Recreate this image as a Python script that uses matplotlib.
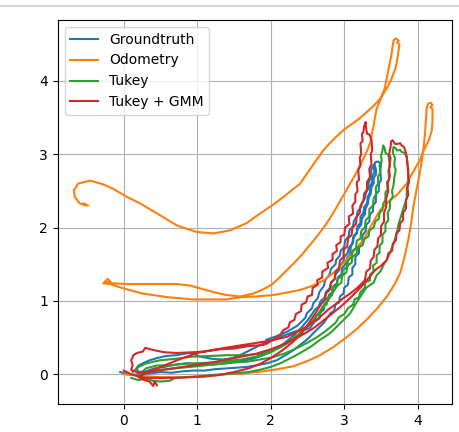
import matplotlib
matplotlib.use("Agg")
import matplotlib.pyplot as plt
from matplotlib.lines import Line2D
import numpy as np

# trajectoires (x, y)
groundtruth = [
    (-0.05, 0.03), (0.02, 0.01), (0.1, -0.01), (0.2, 0.0), (0.35, 0.01), (0.5, 0.03), (0.65, 0.02),
    (0.8, 0.04), (0.95, 0.05), (1.1, 0.05), (1.25, 0.07), (1.4, 0.08), (1.55, 0.09), (1.67, 0.10),
    (1.8, 0.12), (1.95, 0.15), (2.08, 0.19), (2.2, 0.26), (2.31, 0.33), (2.4, 0.40), (2.5, 0.48),
    (2.58, 0.56), (2.66, 0.64), (2.72, 0.70), (2.76, 0.76), (2.82, 0.84), (2.86, 0.86), (2.88, 0.95),
    (2.93, 0.98), (2.94, 1.06), (2.99, 1.10), (3.0, 1.18), (3.05, 1.22), (3.06, 1.32), (3.11, 1.36),
    (3.11, 1.45), (3.15, 1.50), (3.15, 1.60), (3.20, 1.65), (3.20, 1.75), (3.24, 1.80), (3.25, 1.90),
    (3.29, 1.95), (3.30, 2.04), (3.34, 2.08), (3.35, 2.18), (3.39, 2.22), (3.39, 2.30), (3.43, 2.35),
    (3.43, 2.45), (3.47, 2.50), (3.47, 2.60), (3.50, 2.65), (3.49, 2.76), (3.50, 2.87), (3.46, 2.90),
    (3.42, 2.89), (3.40, 2.84), (3.41, 2.76), (3.38, 2.70), (3.38, 2.62), (3.35, 2.56), (3.35, 2.48),
    (3.32, 2.42), (3.31, 2.33), (3.27, 2.28), (3.26, 2.20), (3.22, 2.15), (3.22, 2.06), (3.18, 2.02),
    (3.17, 1.93), (3.13, 1.89), (3.12, 1.80), (3.09, 1.75), (3.08, 1.64), (3.04, 1.59), (3.02, 1.50),
    (2.97, 1.45), (2.96, 1.36), (2.91, 1.32), (2.90, 1.24), (2.85, 1.20), (2.84, 1.12), (2.79, 1.08),
    (2.78, 1.00), (2.73, 0.96), (2.72, 0.88), (2.67, 0.84), (2.66, 0.76), (2.60, 0.72), (2.53, 0.63),
    (2.45, 0.60), (2.35, 0.59), (2.24, 0.55), (2.13, 0.51), (2.02, 0.46), (1.90, 0.42), (1.80, 0.37),
    (1.72, 0.33), (1.6, 0.27), (1.48, 0.22), (1.35, 0.20), (1.2, 0.21), (1.04, 0.24), (0.95, 0.28),
    (0.88, 0.29), (0.72, 0.26), (0.58, 0.25), (0.45, 0.22), (0.35, 0.19), (0.26, 0.15), (0.2, 0.12),
    (0.17, 0.08), (0.2, 0.03), (0.3, 0.04),
    (0.42, 0.08), (0.55, 0.1), (0.7, 0.13), (0.85, 0.15), (1.0, 0.14), (1.15, 0.13), (1.3, 0.14),
    (1.45, 0.16), (1.6, 0.18), (1.75, 0.21), (1.9, 0.26), (2.05, 0.33), (2.18, 0.42), (2.3, 0.52),
    (2.42, 0.64), (2.52, 0.76), (2.6, 0.88), (2.65, 0.92), (2.68, 1.0), (2.73, 1.04), (2.75, 1.12),
    (2.80, 1.17), (2.82, 1.25), (2.87, 1.30), (2.88, 1.36), (2.93, 1.42), (2.94, 1.48), (2.99, 1.54),
    (3.0, 1.6), (3.05, 1.66), (3.06, 1.72), (3.11, 1.78), (3.12, 1.86), (3.17, 1.92), (3.18, 1.98),
    (3.23, 2.04), (3.24, 2.12), (3.28, 2.18), (3.29, 2.26), (3.32, 2.32), (3.33, 2.4), (3.36, 2.46),
    (3.37, 2.55), (3.40, 2.60), (3.40, 2.68), (3.43, 2.72), (3.43, 2.80), (3.41, 2.86), (3.37, 2.80),
    (3.35, 2.66), (3.33, 2.60), (3.32, 2.52), (3.29, 2.46), (3.28, 2.40), (3.24, 2.34), (3.23, 2.28),
    (3.18, 2.22), (3.17, 2.15), (3.13, 2.09), (3.12, 2.02), (3.07, 1.96), (3.06, 1.88), (3.01, 1.82),
    (3.0, 1.74), (2.95, 1.68), (2.94, 1.62), (2.89, 1.56), (2.88, 1.50), (2.82, 1.44), (2.80, 1.36),
    (2.74, 1.28), (2.72, 1.20), (2.66, 1.12), (2.64, 1.04), (2.58, 0.97), (2.56, 0.90), (2.49, 0.83),
    (2.47, 0.77), (2.36, 0.66), (2.22, 0.58), (2.08, 0.52), (1.94, 0.47),
]

odometry = [
    (0.0, 0.0), (0.2, -0.02), (0.5, -0.04), (0.8, -0.04), (1.1, -0.03), (1.4, 0.0), (1.6, 0.01),
    (1.9, 0.04), (2.1, 0.07), (2.31, 0.11), (2.5, 0.18), (2.67, 0.26), (2.85, 0.37), (3.0, 0.48),
    (3.15, 0.6), (3.30, 0.74), (3.45, 0.9), (3.58, 1.06), (3.68, 1.22), (3.76, 1.38), (3.82, 1.6),
    (3.87, 1.83), (3.91, 2.06), (3.94, 2.28), (3.98, 2.5), (4.01, 2.65), (4.05, 2.88), (4.08, 3.10),
    (4.10, 3.3), (4.11, 3.46), (4.12, 3.62), (4.14, 3.69), (4.18, 3.70), (4.20, 3.67), (4.17, 3.64),
    (4.20, 3.62), (4.20, 3.45), (4.19, 3.32), (4.15, 3.19), (4.08, 3.05), (4.03, 2.92), (3.93, 2.75),
    (3.85, 2.60), (3.72, 2.45), (3.62, 2.37), (3.49, 2.24), (3.38, 2.05), (3.26, 1.83), (3.15, 1.70),
    (3.03, 1.56), (2.90, 1.42), (2.72, 1.28), (2.55, 1.20), (2.40, 1.15), (2.2, 1.11), (2.03, 1.08),
    (1.8, 1.06), (1.58, 1.05), (1.40, 1.02), (1.15, 1.02), (0.94, 1.02), (0.6, 1.05), (0.26, 1.10),
    (0.0, 1.17), (-0.19, 1.23), (-0.27, 1.25), (-0.22, 1.30), (-0.18, 1.26), (-0.28, 1.24),
    (-0.15, 1.24), (0.04, 1.23), (0.4, 1.23), (0.72, 1.23), (0.9, 1.21), (1.04, 1.17), (1.22, 1.12),
    (1.40, 1.08), (1.58, 1.06), (1.76, 1.10), (1.88, 1.15), (2.01, 1.22), (2.12, 1.32), (2.22, 1.42),
    (2.33, 1.53), (2.44, 1.65), (2.58, 1.82), (2.72, 2.0), (2.82, 2.15), (2.92, 2.32), (3.0, 2.46),
    (3.08, 2.60), (3.16, 2.74), (3.24, 2.90), (3.30, 3.02), (3.35, 3.15), (3.40, 3.40), (3.44, 3.62),
    (3.49, 3.74), (3.55, 3.9), (3.60, 4.15), (3.64, 4.35), (3.67, 4.55), (3.70, 4.58), (3.74, 4.55),
    (3.72, 4.52), (3.75, 4.50), (3.73, 4.35), (3.70, 4.18), (3.64, 4.02), (3.58, 3.90), (3.49, 3.76),
    (3.40, 3.66), (3.21, 3.49), (2.99, 3.33), (2.85, 3.2), (2.72, 3.06), (2.55, 2.82), (2.40, 2.60),
    (2.2, 2.44), (2.03, 2.31), (1.85, 2.19), (1.67, 2.06), (1.44, 1.96), (1.22, 1.92), (0.99, 1.94),
    (0.72, 2.03), (0.49, 2.17), (0.22, 2.33), (0.04, 2.42), (-0.15, 2.53), (-0.28, 2.59),
    (-0.46, 2.64), (-0.62, 2.60), (-0.68, 2.51), (-0.67, 2.42), (-0.60, 2.33), (-0.52, 2.30),
    (-0.55, 2.33), (-0.49, 2.30),
]

tukey = [
    (0.1, -0.05), (0.2, -0.08), (0.3, -0.06), (0.4, -0.09), (0.5, -0.1), (0.62, -0.09), (0.7, -0.05),
    (0.85, -0.04), (1.0, -0.03), (1.2, -0.01), (1.49, 0.01), (1.7, 0.03), (1.85, 0.06), (2.0, 0.1),
    (2.13, 0.15), (2.27, 0.22), (2.40, 0.29), (2.55, 0.38), (2.67, 0.47), (2.78, 0.54), (2.85, 0.60),
    (2.97, 0.72), (3.08, 0.83), (3.15, 0.95), (3.22, 1.06), (3.30, 1.18), (3.40, 1.25), (3.44, 1.35),
    (3.49, 1.40), (3.55, 1.52), (3.58, 1.56), (3.63, 1.68), (3.67, 1.78), (3.72, 1.95), (3.74, 2.05),
    (3.78, 2.18), (3.81, 2.28), (3.85, 2.40), (3.85, 2.50), (3.87, 2.62), (3.87, 2.80), (3.85, 2.96),
    (3.82, 3.02), (3.78, 3.03), (3.76, 3.06), (3.72, 3.05), (3.70, 3.08), (3.67, 3.10), (3.66, 3.02),
    (3.69, 2.95), (3.68, 2.85), (3.70, 2.78), (3.68, 2.68), (3.67, 2.58), (3.65, 2.50), (3.66, 2.42),
    (3.62, 2.36), (3.62, 2.26), (3.59, 2.20), (3.60, 2.10), (3.56, 2.05), (3.56, 1.95), (3.52, 1.90),
    (3.52, 1.80), (3.48, 1.75), (3.48, 1.66), (3.44, 1.62), (3.44, 1.52), (3.39, 1.48), (3.40, 1.40),
    (3.35, 1.36), (3.35, 1.28), (3.28, 1.25), (3.28, 1.18), (3.22, 1.12), (3.20, 1.05), (3.14, 1.02),
    (3.12, 0.95), (3.05, 0.90), (3.0, 0.82), (2.93, 0.78), (2.88, 0.70), (2.76, 0.60), (2.62, 0.50),
    (2.48, 0.42), (2.32, 0.34), (2.18, 0.28), (2.02, 0.23), (1.85, 0.2), (1.67, 0.17), (1.5, 0.16),
    (1.3, 0.14), (1.1, 0.12), (0.9, 0.1), (0.7, 0.08), (0.5, 0.06), (0.35, 0.04), (0.22, 0.0),
    (0.3, 0.08), (0.45, 0.12), (0.6, 0.12), (0.8, 0.14), (1.0, 0.15), (1.2, 0.16), (1.4, 0.18),
    (1.6, 0.20), (1.8, 0.24), (2.0, 0.30), (2.15, 0.38), (2.3, 0.48), (2.45, 0.60), (2.58, 0.74),
    (2.7, 0.90), (2.8, 1.04), (2.9, 1.2), (2.96, 1.25), (2.97, 1.34), (3.03, 1.39), (3.04, 1.48),
    (3.10, 1.52), (3.11, 1.60), (3.17, 1.65), (3.18, 1.72), (3.25, 1.76), (3.27, 1.84), (3.33, 1.88),
    (3.34, 1.96), (3.40, 2.0), (3.42, 2.08), (3.47, 2.12), (3.48, 2.20), (3.52, 2.24), (3.53, 2.32),
    (3.56, 2.38), (3.56, 2.48), (3.59, 2.52), (3.58, 2.62), (3.61, 2.66), (3.60, 2.78), (3.62, 2.84),
    (3.61, 2.92), (3.60, 2.99), (3.56, 3.02), (3.55, 3.08), (3.53, 3.12), (3.52, 3.05), (3.50, 2.98),
    (3.51, 2.90), (3.48, 2.85), (3.49, 2.75), (3.46, 2.70), (3.46, 2.60), (3.43, 2.55), (3.43, 2.45),
    (3.40, 2.40), (3.39, 2.30), (3.34, 2.25), (3.34, 2.15), (3.29, 2.10), (3.28, 2.0), (3.23, 1.95),
    (3.22, 1.85), (3.17, 1.82), (3.16, 1.72), (3.11, 1.68), (3.10, 1.60), (3.05, 1.55), (3.04, 1.46),
    (2.98, 1.42), (2.97, 1.34), (2.91, 1.30), (2.90, 1.22), (2.84, 1.18), (2.83, 1.08), (2.77, 1.04),
    (2.76, 0.95), (2.70, 0.92), (2.68, 0.84), (2.62, 0.80), (2.60, 0.74), (2.53, 0.69), (2.46, 0.62),
    (2.40, 0.56), (2.31, 0.49), (2.22, 0.42), (2.12, 0.37), (2.03, 0.33), (1.85, 0.28), (1.67, 0.26),
    (1.5, 0.26), (1.40, 0.26), (1.2, 0.25), (0.94, 0.24), (0.7, 0.21), (0.49, 0.19), (0.31, 0.15),
    (0.2, 0.1), (0.12, 0.03),
]

tukey_gmm = [
    (0.0, 0.05), (0.1, 0.0), (0.2, -0.03), (0.3, -0.05), (0.5, -0.05), (0.7, -0.05), (0.9, -0.04),
    (1.1, -0.03), (1.3, -0.01), (1.5, 0.03), (1.7, 0.08), (1.85, 0.14), (2.0, 0.22), (2.15, 0.32),
    (2.3, 0.44), (2.42, 0.56), (2.52, 0.70), (2.60, 0.82), (2.68, 0.95), (2.74, 1.02), (2.75, 1.10),
    (2.81, 1.16), (2.82, 1.25), (2.87, 1.30), (2.88, 1.40), (2.93, 1.45), (2.94, 1.55), (2.99, 1.60),
    (2.99, 1.70), (3.04, 1.74), (3.05, 1.85), (3.10, 1.90), (3.11, 2.0), (3.16, 2.05), (3.17, 2.15),
    (3.21, 2.20), (3.22, 2.30), (3.26, 2.36), (3.27, 2.46), (3.31, 2.52), (3.31, 2.62), (3.35, 2.69),
    (3.34, 2.80), (3.37, 2.86), (3.36, 3.0), (3.38, 3.05), (3.37, 3.20), (3.34, 3.27), (3.31, 3.28),
    (3.30, 3.33), (3.29, 3.44), (3.27, 3.38), (3.26, 3.30), (3.24, 3.28), (3.25, 3.18), (3.22, 3.15),
    (3.23, 3.0), (3.21, 2.95), (3.22, 2.85), (3.19, 2.78), (3.20, 2.65), (3.17, 2.62), (3.18, 2.50),
    (3.15, 2.45), (3.15, 2.35), (3.11, 2.30), (3.12, 2.19), (3.06, 2.15), (3.07, 2.05), (3.01, 2.0),
    (3.0, 1.90), (2.95, 1.88), (2.95, 1.80), (2.89, 1.76), (2.90, 1.68), (2.84, 1.64), (2.84, 1.56),
    (2.77, 1.52), (2.78, 1.45), (2.70, 1.40), (2.70, 1.32), (2.63, 1.28), (2.64, 1.22), (2.57, 1.18),
    (2.56, 1.08), (2.50, 1.06), (2.48, 0.98), (2.42, 0.95), (2.41, 0.86), (2.34, 0.82), (2.32, 0.74),
    (2.26, 0.71), (2.24, 0.64), (2.17, 0.60), (2.12, 0.53), (2.03, 0.47), (1.95, 0.42), (1.90, 0.40),
    (1.78, 0.39), (1.67, 0.38), (1.5, 0.35), (1.31, 0.34), (1.1, 0.31), (0.94, 0.30), (0.72, 0.29),
    (0.55, 0.30), (0.40, 0.33), (0.29, 0.36), (0.26, 0.31), (0.18, 0.29), (0.13, 0.26), (0.10, 0.19),
    (0.12, 0.12), (0.1, 0.06),
    (0.2, 0.02), (0.4, 0.04), (0.6, 0.07), (0.8, 0.1), (1.0, 0.13), (1.2, 0.16), (1.4, 0.2),
    (1.6, 0.24), (1.8, 0.28), (2.0, 0.34), (2.2, 0.42), (2.4, 0.52), (2.6, 0.64), (2.8, 0.8),
    (2.95, 0.92), (3.1, 1.06), (3.22, 1.18), (3.32, 1.30), (3.42, 1.42), (3.50, 1.48), (3.58, 1.56),
    (3.60, 1.65), (3.65, 1.68), (3.66, 1.78), (3.70, 1.82), (3.71, 1.92), (3.75, 1.96), (3.76, 2.06),
    (3.80, 2.10), (3.80, 2.20), (3.84, 2.26), (3.84, 2.38), (3.87, 2.44), (3.86, 2.55), (3.88, 2.62),
    (3.87, 2.74), (3.86, 2.85), (3.85, 2.96), (3.83, 3.05), (3.81, 3.10), (3.78, 3.12), (3.76, 3.15),
    (3.72, 3.14), (3.69, 3.14), (3.66, 3.19), (3.64, 3.18), (3.63, 3.10), (3.61, 3.0), (3.63, 2.95),
    (3.61, 2.80), (3.62, 2.70), (3.59, 2.60), (3.60, 2.50), (3.57, 2.40), (3.57, 2.28), (3.54, 2.20),
    (3.54, 2.08), (3.50, 2.02), (3.50, 1.90), (3.46, 1.85), (3.45, 1.74), (3.41, 1.70), (3.40, 1.60),
    (3.36, 1.55), (3.35, 1.44), (3.30, 1.40), (3.28, 1.28), (3.18, 1.18), (3.08, 1.10), (2.99, 1.04),
    (2.90, 0.97), (2.78, 0.88), (2.67, 0.78), (2.58, 0.71), (2.49, 0.65), (2.36, 0.58), (2.22, 0.51),
    (2.0, 0.46), (1.76, 0.42), (1.5, 0.38), (1.2, 0.33), (1.0, 0.29), (0.8, 0.22), (0.6, 0.14),
    (0.45, 0.08), (0.3, 0.02), (0.2, -0.04), (0.28, -0.08), (0.35, -0.1), (0.40, -0.16),
    (0.42, -0.10), (0.45, -0.15),
]

labels = ["Groundtruth", "Odometry", "Tukey", "Tukey + GMM"]
x_ticks = [0, 1, 2, 3, 4]
y_ticks = [0, 1, 2, 3, 4]

fig = plt.figure(figsize=(4.6, 4.32), dpi=100)
ax = fig.add_axes([0.1254, 0.0641, 0.8579, 0.8896])

for traj, lab in zip([groundtruth, odometry, tukey, tukey_gmm], labels):
    pts = np.array(traj)
    ax.plot(pts[:, 0], pts[:, 1], label=lab, linewidth=1.5)

ax.set_xlim(-0.90, 4.47)
ax.set_ylim(-0.41, 4.83)
ax.set_xticks(x_ticks)
ax.set_yticks(y_ticks)
ax.grid(True)
ax.legend(loc="upper left")

# trait gris en haut (séparateur de cellule)
fig.add_artist(Line2D([0, 1], [1 - 6 / 432, 1 - 6 / 432], transform=fig.transFigure,
                      color="#d0d0d0", linewidth=1.2))

fig.savefig("out.png", dpi=100)
